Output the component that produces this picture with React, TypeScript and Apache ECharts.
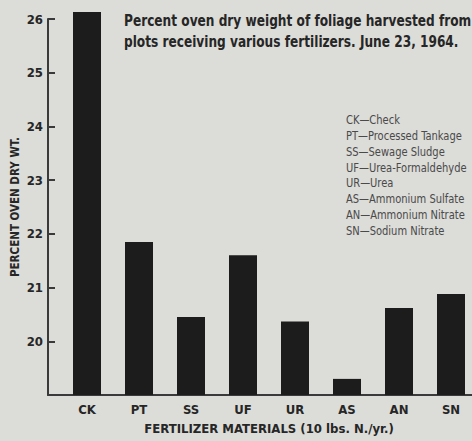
import React, { useEffect, useRef } from "react";
import * as echarts from "echarts";

const categories = ["CK", "PT", "SS", "UF", "UR", "AS", "AN", "SN"];
const fullNames = [
  "Check",
  "Processed Tankage",
  "Sewage Sludge",
  "Urea-Formaldehyde",
  "Urea",
  "Ammonium Sulfate",
  "Ammonium Nitrate",
  "Sodium Nitrate",
];
const values = [26.13, 21.85, 20.45, 21.6, 20.37, 19.3, 20.62, 20.88];
const yTicks = [20, 21, 22, 23, 24, 25, 26];
const titleLines = [
  "Percent oven dry weight of foliage harvested from",
  "plots receiving various fertilizers. June 23, 1964.",
];
const yName = "PERCENT OVEN DRY WT.";
const xName = "FERTILIZER MATERIALS (10 lbs. N./yr.)";

const FONT = "'Liberation Sans Narrow', 'DejaVu Sans Condensed', 'Roboto', sans-serif";
const INK = "#262626";
const AXIS = "#3a3a3a";

export default function App() {
  const ref = useRef<HTMLDivElement>(null);
  useEffect(() => {
    if (!ref.current) return;
    const chart = echarts.init(ref.current, undefined, { renderer: "svg" });
    chart.setOption({
      animation: false,
      backgroundColor: "#dcdcd8",
      grid: [
        { left: 61, top: 19, width: 416, height: 376, containLabel: false, outerBoundsMode: "none" },
        { left: 48, top: 19, width: 424, height: 376, containLabel: false, outerBoundsMode: "none" },
      ],
      xAxis: [
        {
          type: "category",
          gridIndex: 0,
          data: categories,
          name: xName,
          nameLocation: "middle",
          nameGap: 27,
          nameMoveOverlap: false,
          nameTextStyle: { fontFamily: FONT, fontSize: 13, fontWeight: "bold", color: INK },
          axisLine: { show: false },
          axisTick: { show: false },
          splitLine: { show: false },
          axisLabel: { margin: 8, fontFamily: FONT, fontSize: 13, fontWeight: "bold", color: INK },
        },
        {
          type: "value",
          gridIndex: 1,
          min: 0,
          max: 1,
          axisLine: { show: true, onZero: false, lineStyle: { color: AXIS, width: 2 } },
          axisTick: { show: false },
          axisLabel: { show: false },
          splitLine: { show: false },
        },
      ],
      yAxis: [
        {
          type: "value",
          gridIndex: 0,
          min: 19,
          max: 26,
          interval: 1,
          startValue: 19,
          show: false,
          splitLine: { show: false },
        },
        {
          type: "value",
          gridIndex: 1,
          min: 19,
          max: 26,
          interval: 1,
          name: yName,
          nameLocation: "middle",
          nameRotate: 90,
          nameGap: 27,
          nameMoveOverlap: false,
          nameTextStyle: { fontFamily: FONT, fontSize: 11.5, fontWeight: "bold", color: INK },
          axisLine: { show: true, lineStyle: { color: AXIS, width: 2 } },
          axisTick: { show: true, inside: true, length: 7, lineStyle: { color: AXIS, width: 2 }, customValues: yTicks },
          splitLine: { show: false },
          axisLabel: {
            customValues: yTicks,
            margin: 5,
            fontFamily: FONT,
            fontSize: 13,
            fontWeight: "bold",
            color: INK,
          },
        },
      ],
      series: [
        {
          type: "bar",
          xAxisIndex: 0,
          yAxisIndex: 0,
          data: values,
          barWidth: 28,
          clip: false,
          itemStyle: { color: "#1c1c1c" },
        },
      ],
      graphic: [
        {
          type: "text",
          x: 124,
          y: 10,
          scaleX: 0.845,
          style: {
            text: titleLines.join("\n"),
            font: `bold 16px ${FONT}`,
            lineHeight: 21,
            fill: INK,
          },
        },
        {
          type: "text",
          x: 346,
          y: 112,
          scaleX: 0.85,
          style: {
            text: categories.map((c, i) => `${c}\u2014${fullNames[i]}`).join("\n"),
            font: `13px ${FONT}`,
            lineHeight: 15.8,
            fill: "#4a4a4a",
          },
        },
      ],
    });
    return () => chart.dispose();
  }, []);
  return (
    <div
      ref={ref}
      style={{ position: "fixed", left: 0, top: 0, width: 472, height: 441, background: "#dcdcd8" }}
    />
  );
}
